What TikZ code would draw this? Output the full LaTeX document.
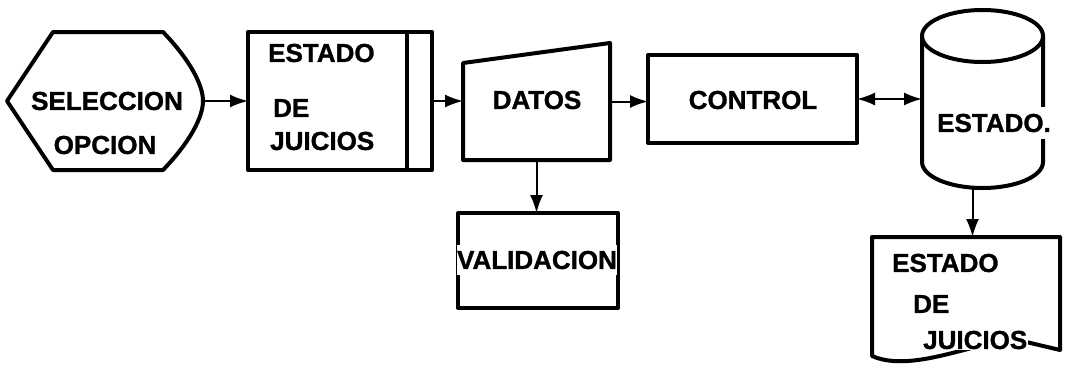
\documentclass[tikz,border=0pt]{standalone}
\usepackage{fontspec}
\setmainfont{Liberation Sans}
\newfontfamily\heavyfont{Liberation Sans Bold}[FakeBold=1.2]
\usetikzlibrary{arrows.meta}

\begin{document}
\begin{tikzpicture}[
                x=1pt, y=-1pt, % one unit per pixel, y downwards
                frame/.style={inner sep=0pt, outer sep=0pt}, % invisible box giving the anchors
                outline/.style={line width=4pt, line join=round}, % thick border of the symbols
                flow/.style={line width=2pt, -{Latex[length=18pt, width=13pt]}}, % arrow between symbols
                biflow/.style={line width=2pt, {Latex[length=18pt, width=13pt]}-{Latex[length=18pt, width=13pt]}},
                txt/.style={font=\fontsize{26}{30}\heavyfont, inner sep=1pt, fill=white} % text of the symbols
                ]
                \useasboundingbox (0,0) rectangle (1075,370);

                % frames of the symbols
                \node[frame, minimum width=196pt, minimum height=138pt] (sel) at (105,101) {};
                \node[frame, minimum width=184pt, minimum height=138pt] (est) at (340,101) {};
                \node[frame, minimum width=147pt, minimum height=117pt] (dat) at (536.5,101.5) {};
                \node[frame, minimum width=209pt, minimum height=88pt] (ctl) at (752.5,99) {};
                \node[frame, minimum width=160pt, minimum height=95pt] (val) at (538,260.5) {};
                \node[frame, minimum width=121pt, minimum height=178pt] (cyl) at (982.5,99) {};
                \node[frame, minimum width=188pt, minimum height=113pt] (doc) at (966,293.5) {};

                % outlines
                \draw[outline] (sel.west) -- ([xshift=46pt]sel.north west) -- ([xshift=-40pt]sel.north east)
                    .. controls (190,60) and (203,85) .. (sel.east)
                    .. controls (203,117) and (190,142) .. ([xshift=-40pt]sel.south east)
                    -- ([xshift=46pt]sel.south west) -- cycle;
                \draw[outline] (est.north west) rectangle (est.south east);
                \draw[outline] ([xshift=-25pt]est.north east) -- ([xshift=-25pt]est.south east);
                \draw[outline] (dat.south west) -- ([yshift=-20pt]dat.north west) -- (dat.north east) -- (dat.south east) -- cycle;
                \draw[outline] (ctl.north west) rectangle (ctl.south east);
                \draw[outline] (val.north west) rectangle (val.south east);
                \draw[outline] ([yshift=-26pt]cyl.north) ellipse[x radius=60.5pt, y radius=26pt];
                \draw[outline] ([yshift=-26pt]cyl.north west) -- ([yshift=26pt]cyl.south west)
                    arc[start angle=180, end angle=360, x radius=60.5pt, y radius=26pt] -- ([yshift=-26pt]cyl.north east);
                \draw[outline] (doc.south east) -- (doc.north east) -- (doc.north west) -- ([yshift=-6pt]doc.south west)
                    .. controls (915,375) and (985,336) .. (1022,341) -- cycle;

                % connectors
                \draw[flow] (sel.east) -- (est.west);
                \draw[flow] (est.east) -- (est.east -| dat.west);
                \draw[flow] (dat.east) -- (dat.east -| ctl.west);
                \draw[flow] (dat.south) -- (dat.south |- val.north);
                \draw[biflow] (ctl.east) -- (ctl.east -| cyl.west);
                \draw[flow] ([xshift=-10pt]cyl.south) -- ([xshift=-10pt]cyl.south |- doc.north);

                % texts
                \node[txt] (sel-a) at (107,101) {SELECCION};
                \node[txt] (sel-b) at (105,145) {OPCION};
                \node[txt, anchor=west] (est-a) at (267,53) {ESTADO};
                \node[txt, anchor=west] (est-b) at (272,108) {DE};
                \node[txt, anchor=west] (est-c) at (269,141) {JUICIOS};
                \node[txt] (dat-a) at (537,100) {DATOS};
                \node[txt] (ctl-a) at (753,100) {CONTROL};
                \node[txt, inner xsep=0pt, inner ysep=6pt] (val-a) at (537,260) {VALIDACION};
                \node[txt, inner xsep=0pt, inner ysep=7pt] (cyl-a) at (994,123) {ESTADO.};
                \node[txt, anchor=west] (doc-a) at (891,263) {ESTADO};
                \node[txt, anchor=west] (doc-b) at (912,304) {DE};
                \node[txt, anchor=west] (doc-c) at (922,340) {JUICIOS};
            \end{tikzpicture}
\end{document}
